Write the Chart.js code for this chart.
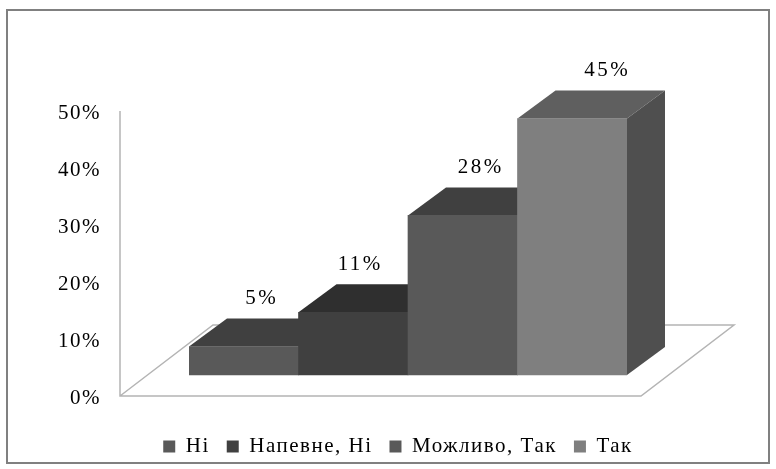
<!DOCTYPE html>
<html>
<head>
<meta charset="utf-8">
<script src="https://cdn.jsdelivr.net/npm/chart.js@4/dist/chart.umd.min.js"></script>
<style>
  html, body { margin: 0; padding: 0; background: #fff; }
  #wrap { width: 776px; height: 469px; }
</style>
</head>
<body>
<div id="wrap"><canvas id="chart"></canvas></div>
<script>
// data
const categories = ["Ні", "Напевне, Ні", "Можливо, Так", "Так"];
const values = [5, 11, 28, 45];
const yMax = 50;
const yStep = 10;

// colours per bar
const frontColors = ["#595959", "#404040", "#595959", "#7f7f7f"];
const topColors = ["#404040", "#2f2f2f", "#404040", "#5f5f5f"];
const sideColors = ["#404040", "#2f2f2f", "#404040", "#4f4f4f"];

// fake 3D depth, px
const BAR_DX = 38, BAR_DY = 28;
const FLOOR_DX = 93, FLOOR_DY = 71;
const labelShift = [18, 7, 18, 35];
const FONT = "'Liberation Serif', serif";
const LETTER_SPACING = "1.5px";
const LEGEND_DROP = 23;

/* ── Text stretch and legend position ───────────────────────*/
const spacing = {
  id: "spacing",
  beforeLayout(chart) { chart.ctx.letterSpacing = LETTER_SPACING; },
  afterLayout(chart) {
    chart.legend.top += LEGEND_DROP;
    chart.legend.bottom += LEGEND_DROP;
  },
  beforeDraw(chart) { chart.ctx.letterSpacing = LETTER_SPACING; }
};

function poly(ctx, pts, fill) {
  ctx.beginPath();
  pts.forEach((p, i) => i ? ctx.lineTo(p[0], p[1]) : ctx.moveTo(p[0], p[1]));
  ctx.closePath();
  ctx.fillStyle = fill;
  ctx.fill();
}

/* ── 3D faces, floor, wall and value labels ─────────────────*/
const bars3d = {
  id: "bars3d",
  beforeDatasetsDraw(chart) {
    const ctx = chart.ctx;
    const y0 = chart.scales.y.getPixelForValue(0);
    const yTop = chart.scales.y.getPixelForValue(yMax);
    const wallX = 120, floorRight = 641;

    // outer frame
    ctx.save();
    ctx.strokeStyle = "#808080";
    ctx.lineWidth = 2;
    ctx.strokeRect(7, 10, 762, 453);

    // wall + floor
    ctx.strokeStyle = "#b4b4b4";
    ctx.lineWidth = 1.5;
    ctx.beginPath();
    ctx.moveTo(wallX, yTop);
    ctx.lineTo(wallX, y0);
    ctx.lineTo(floorRight, y0);
    ctx.lineTo(floorRight + FLOOR_DX, y0 - FLOOR_DY);
    ctx.lineTo(wallX + FLOOR_DX, y0 - FLOOR_DY);
    ctx.lineTo(wallX, y0);
    ctx.stroke();

    // top and right faces, left to right so the next bar covers them
    const meta = chart.getDatasetMeta(0);
    meta.data.forEach((bar, i) => {
      const p = bar.getProps(["x", "y", "base", "width"], true);
      const l = p.x - p.width / 2, r = p.x + p.width / 2;
      poly(ctx, [[l, p.y], [l + BAR_DX, p.y - BAR_DY], [r + BAR_DX, p.y - BAR_DY], [r, p.y]], topColors[i]);
      poly(ctx, [[r, p.y], [r + BAR_DX, p.y - BAR_DY], [r + BAR_DX, p.base - BAR_DY], [r, p.base]], sideColors[i]);
    });
    ctx.restore();
  },
  afterDatasetsDraw(chart) {
    const ctx = chart.ctx;
    ctx.save();
    ctx.fillStyle = "#000";
    ctx.font = "21px " + FONT;
    ctx.letterSpacing = "2.5px";
    ctx.textAlign = "center";
    ctx.textBaseline = "middle";
    chart.getDatasetMeta(0).data.forEach((bar, i) => {
      const p = bar.getProps(["x", "y"], true);
      ctx.fillText(values[i] + "%", p.x + labelShift[i], p.y - BAR_DY - 20);
    });
    ctx.restore();
  }
};

/* ── Chart ──────────────────────────────────────────────────*/
new Chart(document.getElementById("chart"), {
  type: "bar",
  data: {
    labels: categories,
    datasets: [{
      data: values,
      yAxisID: "yBar",
      backgroundColor: frontColors,
      categoryPercentage: 1,
      barPercentage: 1,
      borderWidth: 0
    }]
  },
  plugins: [spacing, bars3d],
  options: {
    responsive: true,
    maintainAspectRatio: false,
    animation: false,
    layout: { padding: { top: 111, left: 20, right: 0, bottom: 25 } },
    scales: {
      x: { display: false },
      y: {
        position: "left",
        min: 0, max: yMax,
        grid: { display: false },
        border: { display: false },
        ticks: {
          stepSize: yStep, padding: 80, labelOffset: 2, color: "#000",
          font: { family: FONT, size: 21 },
          callback: v => v + "%"
        },
        afterFit(s) {
          s.width = 169;
          // the big tick padding must not eat into the plot height
          s.paddingTop = 0;
          s.paddingBottom = 0;
        }
      },
      // bars stand on the front of the floor, above the 0% tick
      yBar: {
        position: "right",
        min: -3.68, max: yMax - 3.68,
        grid: { display: false },
        border: { display: false },
        ticks: { display: false },
        afterFit(s) { s.width = 149; }
      }
    },
    plugins: {
      tooltip: { enabled: false },
      legend: {
        position: "bottom",
        labels: {
          color: "#000",
          boxWidth: 12, boxHeight: 12,
          padding: 17,
          font: { family: FONT, size: 21 },
          generateLabels: () => categories.map((c, i) => ({
            text: c, fillStyle: frontColors[i], strokeStyle: frontColors[i], lineWidth: 0, index: i
          }))
        }
      }
    }
  }
});
</script>
</body>
</html>
